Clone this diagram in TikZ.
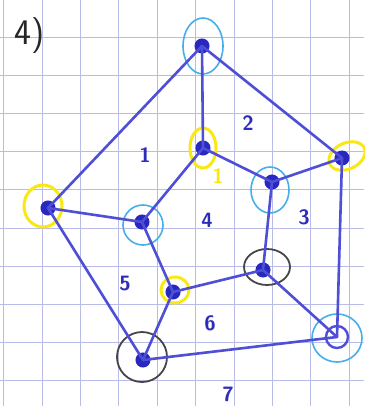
\documentclass[tikz,border=0pt]{standalone}
\begin{document}
\begin{tikzpicture}[x=1pt,y=-1pt,
  edge/.style={draw=edgeblue,line width=2.6pt,line cap=round},
  vdot/.style={circle,fill=dotblue,draw=dotblue,line width=1pt,inner sep=0pt,minimum size=14pt},
  ringcyan/.style={draw=ringcyan,line width=1.6pt},
  ringyellow/.style={draw=ringyellow,line width=3pt},
  ringblack/.style={draw=ringblack,line width=1.8pt},
  facelabel/.style={text=labelblue,font=\sffamily\bfseries\huge,inner sep=0pt}]
\definecolor{edgeblue}{RGB}{78,78,215}
\definecolor{dotblue}{RGB}{40,40,190}
\definecolor{labelblue}{RGB}{45,45,185}
\definecolor{ringcyan}{RGB}{70,175,235}
\definecolor{ringyellow}{RGB}{250,232,20}
\definecolor{ringblack}{RGB}{70,70,70}
\definecolor{gridc}{RGB}{185,188,230}
\fill[white] (0,0) rectangle (364,406);
\useasboundingbox (0,0) rectangle (364,406);
% grid
\foreach \i in {0,...,9} {\draw[gridc,line width=0.8pt] (3.5+38.4*\i,0) -- (3.5+38.4*\i,406);}
\foreach \j in {0,...,9} {\draw[gridc,line width=0.8pt] (0,37+38.2*\j) -- (364,37+38.2*\j);}
% rings
\draw[ringcyan] (203,46) ellipse [x radius=20,y radius=28];
\draw[ringyellow] (203,148) ellipse [x radius=13,y radius=20];
\draw[ringyellow] (43,206) ellipse [x radius=19,y radius=21];
\draw[ringcyan] (143,225) ellipse [x radius=20,y radius=20];
\draw[ringcyan] (270,190) ellipse [x radius=19,y radius=23];
\draw[ringyellow,rotate around={25:(347,156)}] (347,156) ellipse [x radius=19,y radius=13];
\draw[ringblack] (267,267) ellipse [x radius=23,y radius=18];
\draw[ringyellow] (175,290) ellipse [x radius=14,y radius=13];
\draw[ringblack] (142,357) ellipse [x radius=25,y radius=25];
\draw[ringcyan] (337,338) ellipse [x radius=25,y radius=24];
% vertices
\node[vdot] (A) at (202,46) {};
\node[vdot] (B) at (203,148) {};
\node[vdot] (C) at (48,208) {};
\node[vdot] (D) at (142,222) {};
\node[vdot] (E) at (272,182) {};
\node[vdot] (F) at (342,158) {};
\node[vdot] (G) at (263,270) {};
\node[vdot] (H) at (173,292) {};
\node[vdot] (I) at (143,360) {};
\node[vdot,fill=none,minimum size=22pt,line width=2.4pt,draw=edgeblue] (J) at (337,337) {};
% edges
\draw[edge] (A.center) -- (C.center);
\draw[edge] (A.center) -- (B.center);
\draw[edge] (A.center) -- (F.center);
\draw[edge] (B.center) -- (D.center);
\draw[edge] (B.center) -- (E.center);
\draw[edge] (C.center) -- (D.center);
\draw[edge] (C.center) -- (I.center);
\draw[edge] (D.center) -- (H.center);
\draw[edge] (E.center) -- (F.center);
\draw[edge] (E.center) -- (G.center);
\draw[edge] (F.center) -- (J.center);
\draw[edge] (G.center) -- (H.center);
\draw[edge] (G.center) -- (J.center);
\draw[edge] (H.center) -- (I.center);
\draw[edge] (I.center) -- (J.center);
% labels
\node[text=black!85,font=\sffamily\fontsize{36}{36}\selectfont,inner sep=0pt] (T) at (30,36) {4)};
\node[facelabel] (L1) at (145,155) {1};
\node[facelabel] (L2) at (248,123) {2};
\node[facelabel,text=ringyellow] (L1y) at (218,176) {1};
\node[facelabel] (L3) at (304,217) {3};
\node[facelabel] (L4) at (207,220) {4};
\node[facelabel] (L5) at (125,284) {5};
\node[facelabel] (L6) at (210,323) {6};
\node[facelabel] (L7) at (228,394) {7};
\end{tikzpicture}
\end{document}
